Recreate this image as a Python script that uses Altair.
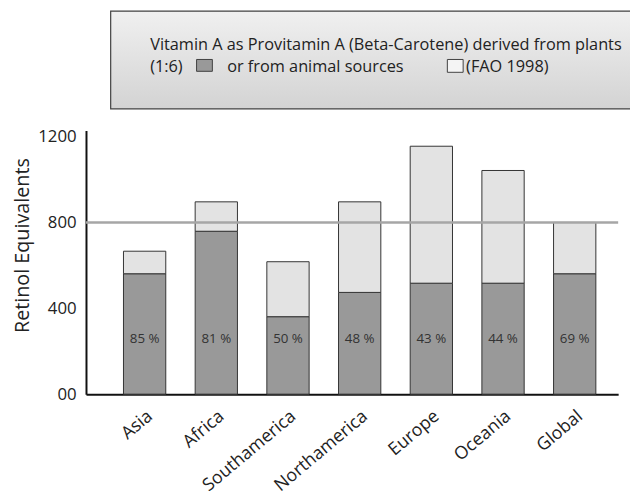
import altair as alt
import pandas as pd

regions = ["Asia", "Africa", "Southamerica", "Northamerica", "Europe", "Oceania", "Global"]
totals = [666, 896, 617, 896, 1155, 1042, 800]
plant = [561, 759, 361, 474, 517, 517, 561]
percent = ["85 %", "81 %", "50 %", "48 %", "43 %", "44 %", "69 %"]
reference_level = 800
y_ticks = [0, 400, 800, 1200]

rows = []
for r, t, p in zip(regions, totals, plant):
    rows.append({"region": r, "source": "plant", "ord": 0, "value": p})
    rows.append({"region": r, "source": "animal", "ord": 1, "value": t - p})
df = pd.DataFrame(rows)
lab = pd.DataFrame({"region": regions, "pct": percent})

FONT = "Open Sans"
W, H = 539, 267

xenc = alt.X("region:N", sort=regions, title=None,
             scale=alt.Scale(paddingInner=0.41, paddingOuter=0.417, align=0.627),
             axis=alt.Axis(labelAngle=-40, labelFontSize=18, labelColor="#222",
                           labelFont=FONT, ticks=False, domainColor="#111",
                           domainWidth=2, labelPadding=13))

bars = alt.Chart(df).mark_bar(stroke="#333", strokeWidth=1).encode(
    x=xenc,
    y=alt.Y("value:Q", stack="zero", title="Retinol Equivalents",
            scale=alt.Scale(domain=[0, 1228], nice=False),
            axis=alt.Axis(values=y_ticks, labelExpr="datum.value == 0 ? '00' : format(datum.value, 'd')",
                          ticks=False, grid=False, domainColor="#111", domainWidth=2,
                          labelFontSize=17, labelFont=FONT, labelColor="#222", labelPadding=10,
                          titleFont=FONT, titleFontSize=20, titleFontWeight="normal",
                          titleColor="#222", titlePadding=5, titleY=116)),
    color=alt.Color("source:N", scale=alt.Scale(domain=["plant", "animal"],
                                                range=["#999999", "#e3e3e3"]), legend=None),
    order=alt.Order("ord:Q"),
)

texts = alt.Chart(lab).mark_text(font=FONT, fontSize=13.5, color="#333").encode(
    x=alt.X("region:N", sort=regions),
    y=alt.datum(255),
    text="pct:N",
)

rule = alt.Chart(pd.DataFrame({"v": [reference_level]})).mark_rule(
    color="#a6a6a6", strokeWidth=2.5).encode(y="v:Q")

one = pd.DataFrame({"a": [0]})
box = alt.Chart(one).mark_rect(
    stroke="#404040", strokeWidth=1.2,
    color=alt.Gradient(gradient="linear",
                       stops=[alt.GradientStop(color="#f0f0f0", offset=0),
                              alt.GradientStop(color="#d3d3d3", offset=1)],
                       x1=0, x2=0, y1=0, y2=1)).encode(
    x=alt.value(25), x2=alt.value(570), y=alt.value(-121), y2=alt.value(-22))

HF = 16.5
def htext(x, y, s):
    return alt.Chart(one).mark_text(font=FONT, fontSize=HF, color="#222", align="left",
                                    baseline="middle").encode(
        x=alt.value(x), y=alt.value(y), text=alt.value(s))

line1 = htext(65, -87, "Vitamin A as Provitamin A (Beta-Carotene) derived from plants")
l2a = htext(65, -64, "(1:6)")
l2b = htext(143, -64, "or from animal sources")
l2c = htext(385, -64, "(FAO 1998)")
sq1 = alt.Chart(one).mark_rect(fill="#999999", stroke="#404040", strokeWidth=1).encode(
    x=alt.value(112), x2=alt.value(128), y=alt.value(-72), y2=alt.value(-60))
sq2 = alt.Chart(one).mark_rect(fill="#f4f4f4", stroke="#404040", strokeWidth=1).encode(
    x=alt.value(366), x2=alt.value(382), y=alt.value(-72), y2=alt.value(-59))

chart = alt.layer(bars, texts, rule, box, line1, l2a, l2b, l2c, sq1, sq2).properties(
    width=W, height=H,
    padding={"left": 79, "top": 121, "right": 12, "bottom": 100},
    autosize=alt.AutoSizeParams(type="none"),
).configure_view(stroke=None).configure_axis(grid=False)

chart.save("out.html", embed_options={"renderer": "svg", "actions": False})
